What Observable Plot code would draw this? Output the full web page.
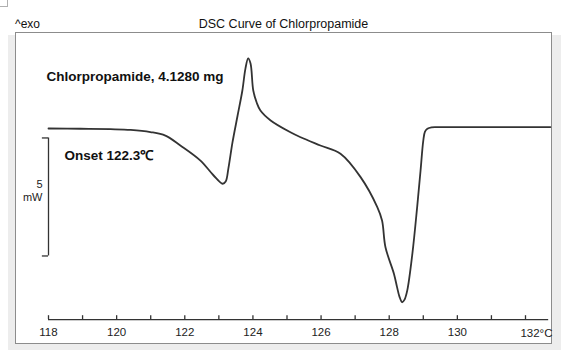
<!DOCTYPE html>
<html>
<head>
<meta charset="utf-8">
<script src="https://cdn.jsdelivr.net/npm/d3@7"></script>
<script src="https://cdn.jsdelivr.net/npm/@observablehq/plot@0.6"></script>
<style>
  html, body { margin: 0; padding: 0; background: #fff; }
  #wrap { position: relative; width: 561px; height: 353px; overflow: hidden; font-family: "Liberation Sans", Arial, sans-serif; }
  #corner { position: absolute; left: 0; top: 0; width: 7px; height: 6px; border-right: 1px solid #b0b0b0; border-bottom: 1px solid #b0b0b0; }
  #gray { position: absolute; left: 8px; top: 35px; width: 553px; height: 315px; background: #ededed; }
  #box { position: absolute; left: 15px; top: 32px; width: 537px; height: 312px; box-sizing: border-box; border: 1.5px solid #8c8c8c; background: #fff; }
  #title { position: absolute; left: 15px; width: 537px; top: 17px; text-align: center; font-size: 12.5px; color: #111; }
  #exo { position: absolute; left: 15px; top: 17px; font-size: 12px; color: #111; }
  #chart { position: absolute; left: 0; top: 0; }
</style>
</head>
<body>
<div id="wrap">
  <div id="corner"></div>
  <div id="gray"></div>
  <div id="box"></div>
  <div id="exo">^exo</div>
  <div id="title">DSC Curve of Chlorpropamide</div>
  <div id="chart"></div>
</div>
<script>
// Temperature (°C) and heat flow (mW, relative to baseline)
const temperature = [118.00, 118.94, 119.82, 120.41, 120.99, 121.43, 121.87, 122.46, 122.84, 123.11,
  123.20, 123.28, 123.40, 123.55, 123.69, 123.78, 123.86, 123.93, 124.01, 124.11,
  124.22, 124.52, 125.10, 125.40, 125.98, 126.57, 127.16, 127.65, 127.79, 127.89,
  128.14, 128.23, 128.30, 128.38, 128.45, 128.53, 128.68, 128.82, 128.92, 129.00,
  129.05, 129.12, 129.24, 129.41, 130.68, 132.73];
const heatFlow = [0.00, -0.01, -0.03, -0.06, -0.15, -0.30, -0.72, -1.36, -1.98, -2.34,
  -2.25, -1.69, -0.59, 0.55, 1.61, 2.54, 2.97, 2.75, 1.61, 1.10,
  0.76, 0.34, -0.16, -0.37, -0.72, -1.07, -2.06, -3.33, -3.90, -5.03,
  -6.16, -6.72, -7.12, -7.36, -7.25, -6.86, -5.30, -3.33, -1.78, -0.51,
  -0.13, -0.01, 0.05, 0.06, 0.06, 0.06];
const majorTicks = [118, 120, 122, 124, 126, 128, 130, 132];
const minorTicks = [119, 121, 123, 125, 127, 129, 131];
const sampleLabel = "Chlorpropamide, 4.1280 mg";
const onsetLabel = "Onset 122.3\u2103";
const scaleBarLabel = "5\nmW";
const scaleBarSize = 5; // mW

const curve = temperature.map((t, i) => ({t, q: heatFlow[i]}));
const yAxis = -8.1;
const barTop = -0.4, barBottom = barTop - scaleBarSize;

const chart = Plot.plot({
  width: 561,
  height: 353,
  marginLeft: 48,
  marginRight: 36,
  marginTop: 33.6,
  marginBottom: 33.8,
  x: {domain: [118, 132], axis: null},
  y: {domain: [yAxis, 4], axis: null},
  style: {background: "none", overflow: "visible", fontFamily: "'Liberation Sans', Arial, sans-serif", color: "#222"},
  marks: [
    Plot.ruleY([yAxis], {x1: 118, x2: 132.68, stroke: "#333", strokeWidth: 1.3}),
    Plot.ruleX([...majorTicks, ...minorTicks], {y1: yAxis, y2: yAxis + 0.17, stroke: "#333", strokeWidth: 1.3}),
    Plot.axisX(majorTicks.slice(0, -1), {anchor: "bottom", label: null, tickSize: 0, tickPadding: 8, fontSize: 11.5, fill: "#222"}),
    Plot.text(["132\u00b0C"], {x: 131.85, y: yAxis, dy: 14, textAnchor: "start", fontSize: 11.5, fill: "#222"}),
    Plot.line(curve, {x: "t", y: "q", curve: "catmull-rom", stroke: "#333", strokeWidth: 1.8}),
    Plot.ruleX([118], {y1: barTop, y2: barBottom, stroke: "#333", strokeWidth: 1.3}),
    Plot.ruleY([barTop, barBottom], {x1: 117.82, x2: 118, stroke: "#333", strokeWidth: 1.3}),
    Plot.text([scaleBarLabel], {x: 118, y: -2.63, dx: -6, textAnchor: "end", fontSize: 11, lineHeight: 1.15, fill: "#222"}),
    Plot.text([sampleLabel], {x: 117.94, y: 2.2, textAnchor: "start", fontSize: 13.5, fontWeight: "bold", fill: "#111"}),
    Plot.text([onsetLabel], {x: 118.47, y: -1.14, textAnchor: "start", fontSize: 13.5, fontWeight: "bold", fill: "#111"})
  ]
});
document.getElementById("chart").appendChild(chart);
</script>
</body>
</html>
